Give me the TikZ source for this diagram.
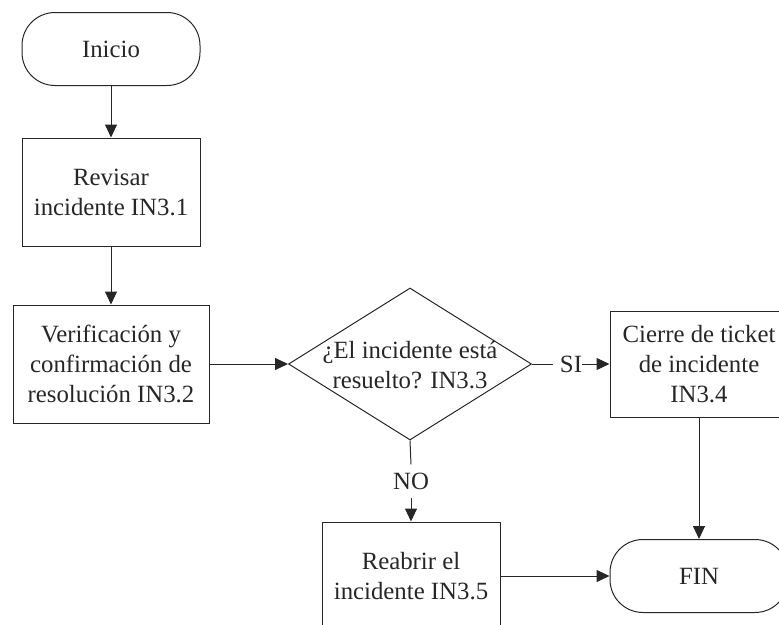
\documentclass[tikz,border=0pt]{standalone}
\usepackage{fontspec}
\setmainfont{Liberation Serif}
\usetikzlibrary{arrows.meta,shapes.geometric}

\tikzset{
  every node/.style={font=\fontsize{24.8}{30}\selectfont, text=black!85},
  conn/.style={line width=1pt, draw=black!85},
  arr/.style={conn, -{Triangle[length=13pt,width=12pt]}},
  procbox/.style={draw=black!85, line width=1pt, rectangle, align=center,
                  minimum width=178pt, inner sep=0pt},
  terminal/.style={draw=black!85, line width=1pt, rectangle, rounded corners=33pt,
                   minimum width=178pt, minimum height=73pt, inner sep=0pt},
  decision/.style={draw=black!85, line width=1pt, diamond, inner sep=0pt,
                   minimum width=243pt, minimum height=152pt},
  edgelabel/.style={inner sep=0pt}
}

\begin{document}
\begin{tikzpicture}[x=1pt,y=-1pt]
  \useasboundingbox (0,0) rectangle (779,624);

  % start / end terminals
  \node[terminal] (inicio) at (111,49) {Inicio};
  \node[terminal] (fin) at (699,576) {FIN};

  % process steps
  \node[procbox, minimum height=108pt] (revisar) at (111,192)
       {Revisar\\incidente IN3.1};
  \node[procbox, minimum width=196pt, minimum height=118pt] (verif) at (111,364)
       {Verificación y\\confirmación de\\resolución IN3.2};
  \node[procbox, minimum height=106pt] (cierre) at (699,364)
       {Cierre de ticket\\de incidente\\IN3.4};
  \node[procbox, minimum height=108pt] (reabrir) at (411,576)
       {Reabrir el\\incidente IN3.5};

  % decision
  \node[decision] (dec) at (410,364) {};
  \node[align=center] (dectext) at (410,365) {¿El incidente está\\resuelto? IN3.3};

  % branch labels
  \node[edgelabel] (si) at (571,364) {SI};
  \node[edgelabel, inner ysep=8pt] (no) at (411,481) {NO};

  % connectors
  \draw[arr] (inicio.south) -- (revisar.north);
  \draw[arr] (revisar.south) -- (verif.north);
  \draw[arr] (verif.east) -- (dec.west);
  \draw[conn] (dec.east) -- ([xshift=-7pt]si.west);
  \draw[arr] (si.east) -- (cierre.west);
  \draw[conn] (dec.south) -- (no.north);
  \draw[arr] (no.south) -- (reabrir.north);
  \draw[arr] (cierre.south) -- (fin.north);
  \draw[arr] (reabrir.east) -- (fin.west);
\end{tikzpicture}
\end{document}
